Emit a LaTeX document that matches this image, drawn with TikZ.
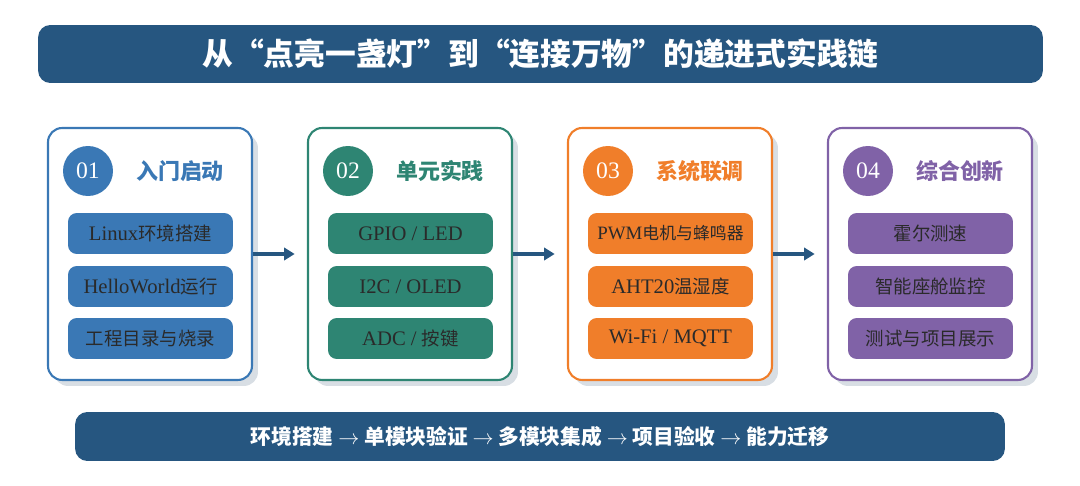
\documentclass[tikz,border=0pt]{standalone}
\usepackage{fontspec}
\setmainfont{Liberation Serif}[Scale=1.12]
\newfontfamily\cjk{Noto Sans CJK SC}
\usetikzlibrary{arrows.meta}
\definecolor{navy}{HTML}{265680}
\definecolor{cblue}{HTML}{3A78B5}
\definecolor{cgreen}{HTML}{2E8573}
\definecolor{corange}{HTML}{F07E2A}
\definecolor{cpurple}{HTML}{8062A7}
\definecolor{shade}{HTML}{D8DEE4}
\definecolor{itemtxt}{HTML}{2A2A2A}
\tikzset{
  x=0.02cm, y=-0.02cm,
  bar/.style={fill=navy, rounded corners=7pt, text=white, inner sep=0pt},
  card/.style={draw=#1, line width=1.2pt, fill=white, rounded corners=8pt,
    minimum width=4.08cm, minimum height=5.04cm, inner sep=0pt},
  cardshadow/.style={fill=shade, rounded corners=8pt,
    minimum width=4.08cm, minimum height=5.04cm, inner sep=0pt},
  badge/.style={circle, fill=#1, minimum size=1cm, inner sep=0pt, text=white, font=\fontsize{12}{12}\selectfont},
  head/.style={text=#1, font=\cjk\bfseries\fontsize{12.5}{14}\selectfont, inner sep=0pt},
  item/.style={fill=#1, rounded corners=5pt, minimum width=3.3cm, minimum height=0.82cm,
    inner sep=0pt, text=itemtxt, font=\fontsize{10.5}{12}\selectfont},
  flow/.style={draw=navy, line width=2.3pt, -{Triangle[length=6pt,width=7pt]}, shorten >=7pt},
}
\begin{document}
\begin{tikzpicture}
\useasboundingbox (0,0) rectangle (1080,486);
% title
\node[bar, minimum width=20.1cm, minimum height=1.16cm] (title) at (540.5,54)
  {\cjk\bfseries\fontsize{17.5}{20}\selectfont 从“点亮一盏灯”到“连接万物”的递进式实践链};
% cards
\foreach \n/\cx/\col in {1/150/cblue,2/410/cgreen,3/670/corange,4/930/cpurple}{
  \node[cardshadow] (s\n) at (\cx+6,260) {};
  \node[card=\col] (c\n) at (\cx,254) {};
}
% card 1
\node[badge=cblue] (b1) at (88,171) {01};
\node[head=cblue] (h1) at (180,171) {入门启动};
\node[item=cblue] (i11) at (150.5,233.5) {Linux{\cjk 环境搭建}};
\node[item=cblue] (i12) at (150.5,286.5) {HelloWorld{\cjk 运行}};
\node[item=cblue] (i13) at (150.5,338.5) {\cjk 工程目录与烧录};
% card 2
\node[badge=cgreen] (b2) at (348,171) {02};
\node[head=cgreen] (h2) at (440,171) {单元实践};
\node[item=cgreen] (i21) at (410.5,233.5) {GPIO / LED};
\node[item=cgreen] (i22) at (410.5,286.5) {I2C / OLED};
\node[item=cgreen] (i23) at (410.5,338.5) {ADC / {\cjk 按键}};
% card 3
\node[badge=corange] (b3) at (608,171) {03};
\node[head=corange] (h3) at (700,171) {系统联调};
\node[item=corange, font=\fontsize{9.6}{12}\selectfont] (i31) at (670.5,233.5) {PWM{\cjk 电机与蜂鸣器}};
\node[item=corange] (i32) at (670.5,286.5) {AHT20{\cjk 温湿度}};
\node[item=corange] (i33) at (670.5,338.5) {Wi-Fi / MQTT};
% card 4
\node[badge=cpurple] (b4) at (868,171) {04};
\node[head=cpurple] (h4) at (960,171) {综合创新};
\node[item=cpurple] (i41) at (930.5,233.5) {\cjk 霍尔测速};
\node[item=cpurple] (i42) at (930.5,286.5) {\cjk 智能座舱监控};
\node[item=cpurple] (i43) at (930.5,338.5) {\cjk 测试与项目展示};
% connectors
\draw[flow] (c1.east) -- (c2.west);
\draw[flow] (c2.east) -- (c3.west);
\draw[flow] (c3.east) -- (c4.west);
% bottom bar
\node[bar, minimum width=18.6cm, minimum height=0.98cm] (foot) at (540,436.5)
  {\cjk\bfseries\fontsize{11.8}{14}\selectfont 环境搭建 $\rightarrow$ 单模块验证 $\rightarrow$ 多模块集成 $\rightarrow$ 项目验收 $\rightarrow$ 能力迁移};
\end{tikzpicture}
\end{document}
